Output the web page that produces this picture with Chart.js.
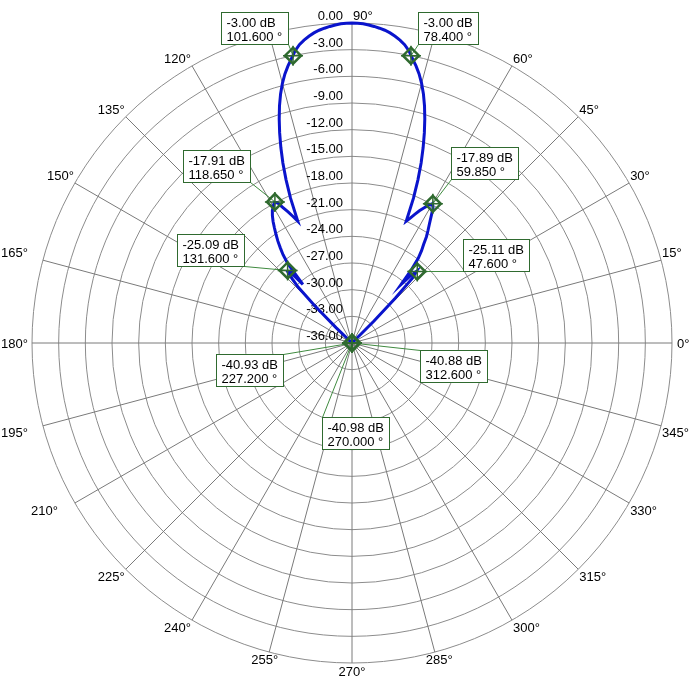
<!DOCTYPE html>
<html>
<head>
<meta charset="utf-8">
<script src="https://cdn.jsdelivr.net/npm/chart.js@4.4.1/dist/chart.umd.min.js"></script>
<style>
  html, body { margin: 0; padding: 0; background: #fff; }
  canvas { display: block; }
</style>
</head>
<body>
<canvas id="polar" width="693" height="681"></canvas>
<script>
// radial scale (dB), 0 on the outer ring, -36 at the centre
const R_MIN = -36;
const R_MAX = 0;
const R_STEP = 3;

// angle labels every 15 deg
const degreeTicks = [0, 15, 30, 45, 60, 75, 90, 105, 120, 135, 150, 165,
    180, 195, 210, 225, 240, 255, 270, 285, 300, 315, 330, 345];

// front of the pattern, one sample per degree from 42 deg to 138 deg
const frontStart = 42;
const frontDb = [
    -41.0, -40.0, -36.5, -32.5, -29.0, -26.0, -25.15, -26.0, -27.4, -25.3,   // 42..51
    -23.9, -23.0, -22.3, -21.4, -20.7, -20.0, -19.2, -18.3, -17.9, -18.3,    // 52..61
    -18.8, -19.3, -19.9, -20.5, -21.0, -18.3, -16.2, -14.3, -12.6, -11.0,    // 62..71
    -9.50, -8.10, -6.85, -5.75, -4.80, -4.00, -3.28, -2.50, -1.92, -1.50,    // 72..81
    -1.15, -0.85, -0.62, -0.45, -0.30, -0.17, -0.07, -0.02, 0.00, -0.02,     // 82..91
    -0.07, -0.17, -0.30, -0.45, -0.62, -0.85, -1.15, -1.50, -1.92, -2.50,    // 92..101
    -3.28, -4.00, -4.80, -5.75, -6.85, -8.10, -9.50, -11.0, -12.6, -14.3,    // 102..111
    -16.2, -18.3, -21.0, -20.3, -19.6, -18.9, -18.1, -17.95, -18.3, -18.6,   // 112..121
    -19.1, -19.7, -20.4, -21.1, -21.8, -22.6, -23.4, -24.5, -27.4, -25.3,    // 122..131
    -25.15, -26.2, -27.3, -30.0, -33.5, -38.0, -41.0                         // 132..138
];

// back of the pattern (all below the -36 dB floor)
const rearAngles = [150, 170, 190, 210, 227, 250, 270, 290, 313, 330, 350, 10, 30];
const rearDb = [-42.5, -43.0, -42.0, -41.8, -40.93, -41.6, -40.98, -41.5, -40.88, -41.7, -42.6, -43.1, -42.2];

// read-out markers
const markerAngles = [101.6, 78.4, 118.65, 59.85, 131.6, 47.6, 227.2, 312.6, 270.0];
const markerDb = [-3.00, -3.00, -17.91, -17.89, -25.09, -25.11, -40.93, -40.88, -40.98];
// box top-left relative to the marker, and which corner the leader goes to
const markerBoxes = [
    { dx: -72, dy: -44, corner: 'br' },
    { dx: 7, dy: -44, corner: 'bl' },
    { dx: -92, dy: -52, corner: 'br' },
    { dx: 18, dy: -57, corner: 'bl' },
    { dx: -111, dy: -36, corner: 'br' },
    { dx: 46, dy: -33, corner: 'bl' },
    { dx: -136, dy: 11, corner: 'tr' },
    { dx: 68, dy: 7, corner: 'tl' },
    { dx: -30, dy: 74, corner: 'tl' },
];
// sideways shifts for a few angle labels
const labelShift = { 165: -14, 195: -14, 210: -16, 255: 10, 285: -10 };

const FONT = '13px "Liberation Sans", Arial, sans-serif';
const CURVE = '#0a14cc';
const GREEN = '#2f6a2f';
const LEADER = '#3f8a3f';

// radar index i sits at angle (90 - i) deg, going clockwise from the top
const labels = [];
for (let i = 0; i < 360; i++) labels.push((90 - i + 360) % 360);
const indexOf = (deg) => ((90 - deg) % 360 + 360) % 360;

const values = new Array(360).fill(null);
frontDb.forEach((db, k) => { values[indexOf(frontStart + k)] = Math.max(db, R_MIN); });
rearAngles.forEach((a, k) => { values[indexOf(a)] = Math.max(rearDb[k], R_MIN); });

const polarText = {
    id: 'polarText',
    beforeDatasetsDraw(chart) {
        const s = chart.scales.r;
        const ctx = chart.ctx;
        ctx.save();
        ctx.font = FONT;
        ctx.fillStyle = '#000';
        ctx.textBaseline = 'alphabetic';
        // dB labels up the vertical axis
        ctx.textAlign = 'right';
        s.ticks.forEach((t) => {
            const y = s.yCenter - s.getDistanceFromCenterForValue(t.value);
            ctx.fillText(t.value.toFixed(2), s.xCenter - 9, y - 3);
        });
        // angle labels: a corner of the text sits on the end of each spoke
        const R = s.drawingArea;
        ctx.textAlign = 'left';
        degreeTicks.forEach((d) => {
            const p = s.getPointPosition(indexOf(d), R);
            const txt = d + '°';
            const w = ctx.measureText(txt).width;
            const c = Math.cos(d * Math.PI / 180);
            const sn = Math.sin(d * Math.PI / 180);
            let x, y;
            if (d === 0) { x = p.x + 5; y = p.y + 5; }
            else if (d === 180) { x = p.x - 4 - w; y = p.y + 5; }
            else if (d === 270) { x = p.x - w / 2; y = p.y + 13; }
            else if (sn > 0) { x = c >= -0.01 ? p.x + 1 : p.x - 1 - w; y = p.y - 3; }
            else { x = c > 0 ? p.x + 1 : p.x - 1 - w; y = p.y + 11.5; }
            ctx.fillText(txt, x + (labelShift[d] || 0), y);
        });
        ctx.restore();
    },
    afterDatasetsDraw(chart) {
        const s = chart.scales.r;
        const ctx = chart.ctx;
        ctx.save();
        ctx.font = FONT;
        const pts = markerAngles.map((a, k) =>
            s.getPointPosition(indexOf(a), s.getDistanceFromCenterForValue(Math.max(markerDb[k], R_MIN))));
        const boxes = pts.map((p, k) => {
            const l1 = markerDb[k].toFixed(2) + ' dB';
            const l2 = markerAngles[k].toFixed(3) + ' °';
            const w = Math.round(Math.max(ctx.measureText(l1).width, ctx.measureText(l2).width)) + 11;
            const bx = Math.round(p.x + markerBoxes[k].dx) + 0.5;
            const by = Math.round(p.y + markerBoxes[k].dy) + 0.5;
            return { l1, l2, x: bx, y: by, w, h: 32 };
        });
        // leaders
        ctx.strokeStyle = LEADER;
        ctx.lineWidth = 1;
        boxes.forEach((b, k) => {
            const c = markerBoxes[k].corner;
            const ex = c[1] === 'r' ? b.x + b.w : b.x;
            const ey = c[0] === 'b' ? b.y + b.h : b.y;
            ctx.beginPath();
            ctx.moveTo(pts[k].x, pts[k].y);
            ctx.lineTo(ex, ey);
            ctx.stroke();
        });
        // marker glyphs: diamond with cross
        pts.forEach((p) => {
            ctx.strokeStyle = GREEN;
            ctx.lineWidth = 1.5;
            ctx.beginPath();
            ctx.moveTo(p.x - 10, p.y); ctx.lineTo(p.x + 10, p.y);
            ctx.moveTo(p.x, p.y - 10); ctx.lineTo(p.x, p.y + 10);
            ctx.stroke();
            ctx.lineWidth = 2.5;
            ctx.beginPath();
            ctx.moveTo(p.x, p.y - 8); ctx.lineTo(p.x + 8, p.y);
            ctx.lineTo(p.x, p.y + 8); ctx.lineTo(p.x - 8, p.y);
            ctx.closePath();
            ctx.stroke();
        });
        // boxes
        boxes.forEach((b) => {
            ctx.fillStyle = '#fff';
            ctx.fillRect(b.x, b.y, b.w, b.h);
            ctx.strokeStyle = GREEN;
            ctx.lineWidth = 1;
            ctx.strokeRect(b.x, b.y, b.w, b.h);
            ctx.fillStyle = '#000';
            ctx.textAlign = 'left';
            ctx.textBaseline = 'alphabetic';
            ctx.fillText(b.l1, b.x + 5, b.y + 14);
            ctx.fillText(b.l2, b.x + 5, b.y + 28);
        });
        ctx.restore();
    }
};

new Chart(document.getElementById('polar'), {
    type: 'radar',
    data: {
        labels,
        datasets: [{
            label: 'Pattern',
            data: values,
            borderColor: CURVE,
            borderWidth: 3,
            pointRadius: 0,
            pointHoverRadius: 0,
            fill: false,
            tension: 0,
            spanGaps: true,
        }],
    },
    options: {
        responsive: false,
        animation: false,
        devicePixelRatio: 1,
        layout: { padding: { left: 32, right: 21, top: 23, bottom: 18 } },
        plugins: { legend: { display: false }, tooltip: { enabled: false } },
        scales: {
            r: {
                min: R_MIN,
                max: R_MAX,
                beginAtZero: false,
                ticks: { display: false, stepSize: R_STEP },
                pointLabels: { display: false },
                grid: { circular: true, color: '#8c8c8c', lineWidth: 1 },
                angleLines: {
                    color: '#7a7a7a',
                    lineWidth: (ctx) => (ctx.index % 15 === 0 ? 1 : 0),
                },
            },
        },
    },
    plugins: [polarText],
});
</script>
</body>
</html>
